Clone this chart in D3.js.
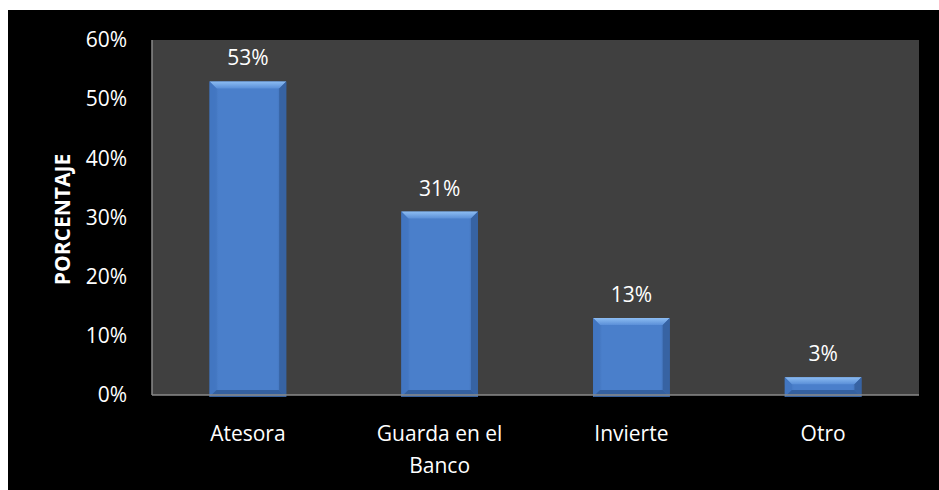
<!DOCTYPE html>
<html><head><meta charset="utf-8">
<script src="https://cdn.jsdelivr.net/npm/d3@7"></script>
<style>html,body{margin:0;padding:0;background:#fff;}svg{display:block;}</style>
</head><body>
<script>
const categories = ["Atesora", "Guarda en el Banco", "Invierte", "Otro"];
const values = [53, 31, 13, 3];
const yTicks = [0, 10, 20, 30, 40, 50, 60];
const yTitle = "PORCENTAJE";

const W = 939, H = 490;
const svg = d3.select("body").append("svg").attr("width", W).attr("height", H);
svg.append("rect").attr("x", 8).attr("y", 10).attr("width", W - 8).attr("height", H - 10).attr("fill", "#000");

const m = {l: 152, r: 919, t: 40, b: 395};
const x = d3.scaleBand().domain(categories).range([m.l, m.r]).paddingInner(0.6).paddingOuter(0.3);
const y = d3.scaleLinear().domain([0, 60]).range([m.b, m.t]);

svg.append("rect").attr("x", m.l).attr("y", m.t).attr("width", m.r - m.l).attr("height", m.b - m.t).attr("fill", "#404040");

const defs = svg.append("defs");
const g1 = defs.append("linearGradient").attr("id", "barFill").attr("x1", 0).attr("x2", 1).attr("y1", 0).attr("y2", 0);
g1.append("stop").attr("offset", "0%").attr("stop-color", "#3d6cb0");
g1.append("stop").attr("offset", "12%").attr("stop-color", "#4a7fcb");
g1.append("stop").attr("offset", "88%").attr("stop-color", "#4a7fcb");
g1.append("stop").attr("offset", "100%").attr("stop-color", "#3a66a6");
const g2 = defs.append("linearGradient").attr("id", "topFill").attr("x1", 0).attr("x2", 0).attr("y1", 0).attr("y2", 1);
g2.append("stop").attr("offset", "0%").attr("stop-color", "#8cbcf2");
g2.append("stop").attr("offset", "100%").attr("stop-color", "#5a8fd8");

const font = "Open Sans, Liberation Sans, sans-serif";
const bev = 7;

const bars = svg.append("g").selectAll("g").data(categories).join("g");
bars.each(function(c, i) {
  const g = d3.select(this);
  const x0 = x(c), bw = x.bandwidth(), y0 = y(values[i]), y1 = y(0) + 2;
  const h = y1 - y0;
  const b = Math.min(bev, h / 2);
  g.append("rect").attr("x", x0).attr("y", y0).attr("width", bw).attr("height", h).attr("fill", "url(#barFill)");
  g.append("path").attr("d", `M${x0},${y0}L${x0 + bw},${y0}L${x0 + bw - b},${y0 + b}L${x0 + b},${y0 + b}Z`).attr("fill", "url(#topFill)");
  g.append("path").attr("d", `M${x0},${y0}L${x0 + b},${y0 + b}L${x0 + b},${y1 - b}L${x0},${y1}Z`).attr("fill", "#4377c2").attr("opacity", 0.9);
  g.append("path").attr("d", `M${x0 + bw},${y0}L${x0 + bw - b},${y0 + b}L${x0 + bw - b},${y1 - b}L${x0 + bw},${y1}Z`).attr("fill", "#3763a3");
  g.append("path").attr("d", `M${x0},${y1}L${x0 + b},${y1 - b}L${x0 + bw - b},${y1 - b}L${x0 + bw},${y1}Z`).attr("fill", "#34609f");
  g.append("text").attr("x", x0 + bw / 2).attr("y", y0 - 16).attr("text-anchor", "middle")
    .attr("fill", "#fff").attr("font-family", font).attr("font-size", 21).text(values[i] + "%");
});

svg.append("line").attr("x1", m.l).attr("x2", m.l).attr("y1", m.t).attr("y2", m.b).attr("stroke", "#8a8a8a").attr("stroke-width", 1.5);
svg.append("line").attr("x1", m.l).attr("x2", m.r).attr("y1", m.b).attr("y2", m.b).attr("stroke", "#8a8a8a").attr("stroke-width", 1.5);

const yAxis = d3.axisLeft(y).tickValues(yTicks).tickFormat(d => d + "%").tickSize(0).tickPadding(25);
const ya = svg.append("g").attr("transform", `translate(${m.l},0)`).call(yAxis);
ya.select(".domain").remove();
ya.selectAll("text").attr("fill", "#fff").attr("font-family", font).attr("font-size", 21);

const xa = svg.append("g");
categories.forEach(c => {
  const words = c === "Guarda en el Banco" ? ["Guarda en el", "Banco"] : [c];
  const t = xa.append("text").attr("x", x(c) + x.bandwidth() / 2).attr("y", 441).attr("text-anchor", "middle")
    .attr("fill", "#fff").attr("font-family", font).attr("font-size", 21);
  words.forEach((w, k) => t.append("tspan").attr("x", x(c) + x.bandwidth() / 2).attr("dy", k ? 32 : 0).text(w));
});

svg.append("text").attr("transform", `translate(70,${(m.t + m.b) / 2 + 2}) rotate(-90)`).attr("text-anchor", "middle")
  .attr("fill", "#fff").attr("font-family", font).attr("font-weight", "bold").attr("font-size", 21).text(yTitle);
</script>
</body></html>
